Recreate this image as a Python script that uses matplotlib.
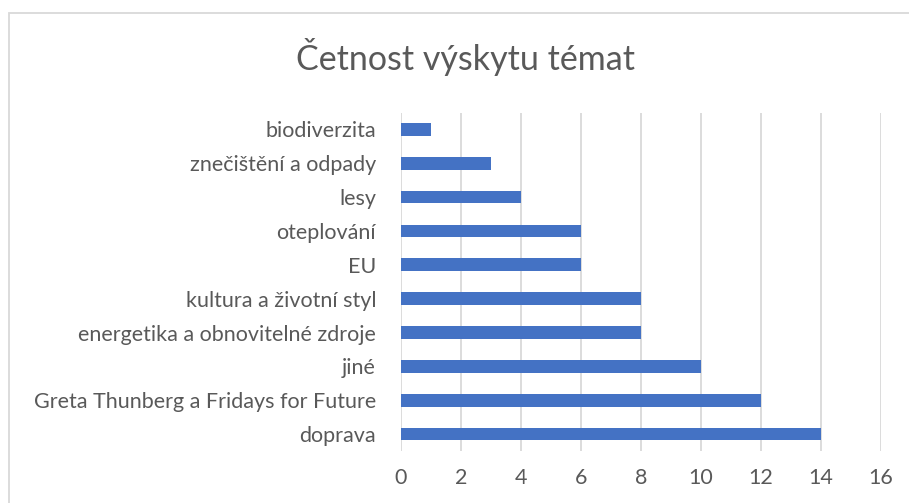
import matplotlib.pyplot as plt
from matplotlib.patches import Rectangle

topics = ["doprava", "Greta Thunberg a Fridays for Future", "jiné",
          "energetika a obnovitelné zdroje", "kultura a životní styl", "EU",
          "oteplování", "lesy", "znečištění a odpady", "biodiverzita"]
counts = [14, 12, 10, 8, 8, 6, 6, 4, 3, 1]
xticks = [0, 2, 4, 6, 8, 10, 12, 14, 16]

plt.rcParams['font.family'] = ['Lato', 'DejaVu Sans']

fig = plt.figure(figsize=(9.09, 5.03), dpi=100)
ax = fig.add_axes([401 / 909, 1 - 451 / 503, 480 / 909, 338.5 / 503])

ax.barh(range(len(topics)), counts, height=0.375, color="#4472C4", zorder=3)
ax.set_ylim(-0.5, len(topics) - 0.5)
ax.set_xlim(0, 16)
ax.set_xticks(xticks)
ax.set_yticks(range(len(topics)))
ax.set_yticklabels(topics)
ax.grid(axis="x", color="#d9d9d9", linewidth=1.3, zorder=0)
for s in ax.spines.values():
    s.set_visible(False)
ax.tick_params(axis="both", length=0, colors="#595959", labelsize=15.5)
ax.tick_params(axis="y", pad=18)
ax.tick_params(axis="x", pad=12)

fig.text(466 / 909, 1 - 57 / 503, "Četnost výskytu témat", ha="center", va="center",
         fontsize=24.5, color="#595959")

# chart frame, cropped on right and bottom
fig.patches.append(Rectangle((9 / 909, -0.1), 1.2, 1 - 13 / 503 + 0.1,
                             transform=fig.transFigure, fill=False,
                             edgecolor="#d9d9d9", linewidth=1.3))

fig.savefig("out.png", dpi=100)
